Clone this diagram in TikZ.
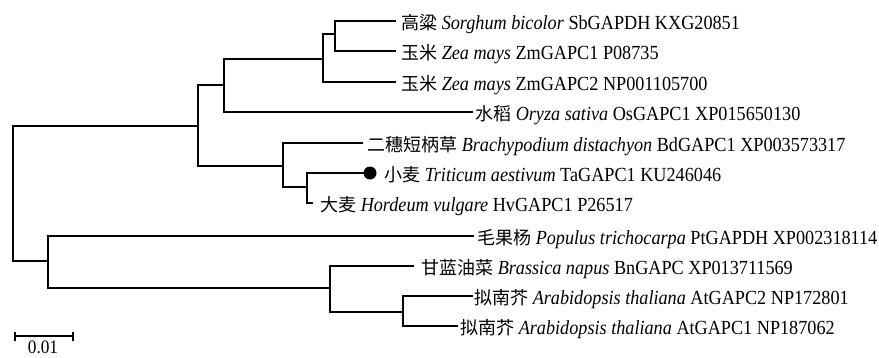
\documentclass[tikz,border=0pt]{standalone}
\usepackage{fontspec}
\setmainfont{Liberation Serif}[FakeStretch=0.91]
\newfontfamily\cjkraw{Noto Sans CJK SC}
\newcommand{\cjk}{\cjkraw\fontsize{18}{20}\selectfont}
\begin{document}
\begin{tikzpicture}[x=1pt,y=-1pt,
  br/.style={line width=2.2pt,line cap=rect},
  leaf/.style={anchor=base west,inner sep=0pt,font=\fontsize{20}{20}\selectfont}]
\useasboundingbox (0,0) rectangle (879,357);
\fill[white] (0,0) rectangle (879,357);
% internal nodes
\coordinate (root) at (13,126);
\coordinate (rootb) at (13,261);
\coordinate (n1) at (198,126);
\coordinate (n1t) at (198,85);
\coordinate (n1b) at (198,166);
\coordinate (n2) at (224,85);
\coordinate (n2t) at (224,59);
\coordinate (n2b) at (224,112);
\coordinate (n3) at (323,59);
\coordinate (n3t) at (323,34);
\coordinate (n3b) at (323,82);
\coordinate (n4) at (335,34);
\coordinate (n4t) at (335,21);
\coordinate (n4b) at (335,51);
\coordinate (n5) at (283,166);
\coordinate (n5t) at (283,143);
\coordinate (n5b) at (283,187);
\coordinate (n6) at (307,187);
\coordinate (n6t) at (307,173);
\coordinate (n6b) at (307,203);
\coordinate (m1) at (48,261);
\coordinate (m1t) at (48,236);
\coordinate (m1b) at (48,288);
\coordinate (m2) at (330,288);
\coordinate (m2t) at (330,266);
\coordinate (m2b) at (330,312);
\coordinate (m3) at (403,312);
\coordinate (m3t) at (403,296);
\coordinate (m3b) at (403,326);
% leaf ends
\coordinate (e1) at (395,21);
\coordinate (e2) at (395,51);
\coordinate (e3) at (395,82);
\coordinate (e4) at (472,112);
\coordinate (e5) at (362,143);
\coordinate (e6) at (364,173);
\coordinate (e7) at (312,203);
\coordinate (e8) at (473,236);
\coordinate (e9) at (413,266);
\coordinate (e10) at (472,296);
\coordinate (e11) at (457,326);
% branches
\draw[br] (n1) -- (root) -- (rootb) -- (m1);
\draw[br] (n2) -- (n1t) -- (n1b) -- (n5);
\draw[br] (n3) -- (n2t) -- (n2b) -- (e4);
\draw[br] (n4) -- (n3t) -- (n3b) -- (e3);
\draw[br] (e1) -- (n4t) -- (n4b) -- (e2);
\draw[br] (e5) -- (n5t) -- (n5b) -- (n6);
\draw[br] (e6) -- (n6t) -- (n6b) -- (e7);
\draw[br] (e8) -- (m1t) -- (m1b) -- (m2);
\draw[br] (e9) -- (m2t) -- (m2b) -- (m3);
\draw[br] (e10) -- (m3t) -- (m3b) -- (e11);
\node[circle,fill=black,inner sep=0pt,minimum size=13pt] (dot) at (370,173) {};
% labels
\node[leaf] (t1) at (401,29.5) {{\cjk 高粱} \textit{Sorghum bicolor} SbGAPDH KXG20851};
\node[leaf] (t2) at (401,59.5) {{\cjk 玉米} \textit{Zea mays} ZmGAPC1 P08735};
\node[leaf] (t3) at (401,90.5) {{\cjk 玉米} \textit{Zea mays} ZmGAPC2 NP001105700};
\node[leaf] (t4) at (475,120.5) {{\cjk 水稻} \textit{Oryza sativa} OsGAPC1 XP015650130};
\node[leaf] (t5) at (367,151.5) {{\cjk 二穗短柄草} \textit{Brachypodium distachyon} BdGAPC1 XP003573317};
\node[leaf] (t6) at (384,181.5) {{\cjk 小麦} \textit{Triticum aestivum} TaGAPC1 KU246046};
\node[leaf] (t7) at (320,211.5) {{\cjk 大麦} \textit{Hordeum vulgare} HvGAPC1 P26517};
\node[leaf] (t8) at (477,244.5) {{\cjk 毛果杨} \textit{Populus trichocarpa} PtGAPDH XP002318114};
\node[leaf] (t9) at (421,274.5) {{\cjk 甘蓝油菜} \textit{Brassica napus} BnGAPC XP013711569};
\node[leaf] (t10) at (474,304.5) {{\cjk 拟南芥} \textit{Arabidopsis thaliana} AtGAPC2 NP172801};
\node[leaf] (t11) at (460,334.5) {{\cjk 拟南芥} \textit{Arabidopsis thaliana} AtGAPC1 NP187062};
% scale bar
\coordinate (s1) at (15,336);
\coordinate (s2) at (73,336);
\draw[line width=2.2pt] (s1) -- (s2);
\draw[line width=2.2pt] ([yshift=-4.5pt]s1) -- ([yshift=4.5pt]s1);
\draw[line width=2.2pt] ([yshift=-4.5pt]s2) -- ([yshift=4.5pt]s2);
\node[anchor=base,inner sep=0pt,font=\fontsize{19}{19}\selectfont] (sl) at (43,353) {0.01};
\end{tikzpicture}
\end{document}
